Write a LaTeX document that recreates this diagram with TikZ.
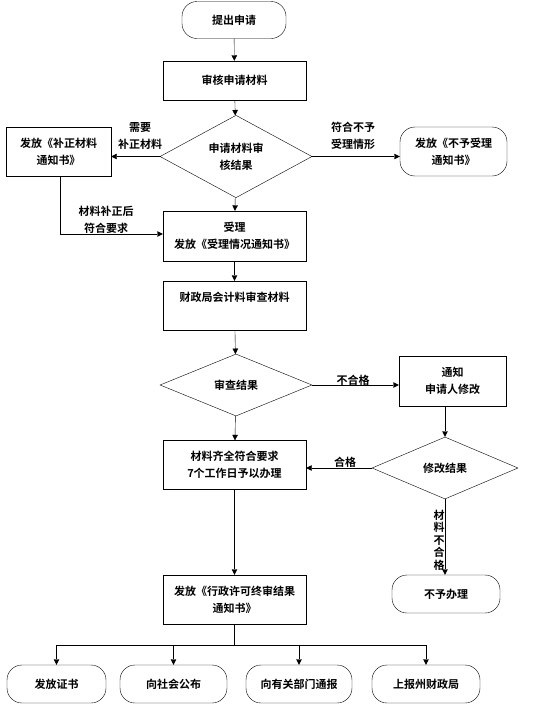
\documentclass[tikz,border=0pt]{standalone}
\usepackage{fontspec}
\setmainfont{Noto Sans CJK SC}[BoldFont={Noto Sans CJK SC Bold}]
\usetikzlibrary{shapes.geometric,arrows.meta}

\begin{document}
\begin{tikzpicture}[x=1pt,y=-1pt,
  box/.style={draw,thin,inner sep=0pt,align=center,
              font=\fontsize{11}{17}\selectfont\bfseries},
  termbox/.style={box,rounded corners=15pt},
  decision/.style={box,diamond},
  lbl/.style={inner sep=0pt,align=center,
              font=\fontsize{11}{17}\selectfont\bfseries},
  arr/.style={-{Triangle[length=5.5pt,width=5.5pt]},thin}]
\useasboundingbox (0,0) rectangle (551,705);
\node[termbox,minimum width=104pt,minimum height=37pt] (start) at (234,20) {提出申请};
\node[box,minimum width=143pt,minimum height=39pt] (chk) at (234.5,80.5) {审核申请材料};
\node[decision,minimum width=152pt,minimum height=61pt] (dec1) at (236,156.5) {申请材料审\\核结果};
\node[box,minimum width=105pt,minimum height=49pt] (fix) at (58.5,151.5) {发放《补正材料\\通知书》};
\node[termbox,minimum width=107pt,minimum height=49pt] (rej) at (453.5,151.5) {发放《不予受理\\通知书》};
\node[box,minimum width=143pt,minimum height=50pt] (acc) at (234.5,236) {受理\\发放《受理情况通知书》};
\node[box,minimum width=143pt,minimum height=49pt] (rev) at (234.5,305.5) {财政局会计料审查材料\\\mbox{}};
\node[decision,minimum width=152pt,minimum height=62pt] (dec2) at (236,385) {审查结果};
\node[box,minimum width=107pt,minimum height=50pt] (ntf) at (452.5,381) {通知\\申请人修改};
\node[box,minimum width=143pt,minimum height=49pt] (ok) at (234.5,465) {材料齐全符合要求\\7个工作日予以办理};
\node[decision,minimum width=146pt,minimum height=62pt] (dec3) at (445,468) {修改结果};
\node[termbox,minimum width=108pt,minimum height=38pt] (no) at (446,594) {不予办理};
\node[box,minimum width=143pt,minimum height=49pt] (fin) at (234.5,599.5) {发放《行政许可终审结果\\通知书》};
\node[termbox,minimum width=99pt,minimum height=38pt] (b1) at (56.5,684) {发放证书};
\node[termbox,minimum width=107pt,minimum height=38pt] (b2) at (173.5,684) {向社会公布};
\node[termbox,minimum width=106pt,minimum height=38pt] (b3) at (299,684) {向有关部门通报};
\node[termbox,minimum width=108pt,minimum height=38pt] (b4) at (426,684) {上报州财政局};

\node[lbl] (l1) at (140,136) {需要\\补正材料};
\node[lbl] (l2) at (353,136) {符合不予\\受理情形};
\node[lbl] (l3) at (106,220) {材料补正后\\符合要求};
\node[lbl] (l4) at (353,380) {不合格};
\node[lbl] (l5) at (345,462) {合格};
\node[lbl,font=\fontsize{11}{12.5}\selectfont\bfseries] (l6) at (439,540) {材\\料\\不\\合\\格};

\draw[arr] (start) -- (chk);
\draw[arr] (chk) -- (dec1);
\draw[arr] (dec1.west) -- (dec1.west -| fix.east);
\draw[arr] (dec1.east) -- (dec1.east -| rej.west);
\draw[arr] (dec1) -- (acc);
\draw[arr] ([xshift=1.5pt]fix.south) |- ([yshift=2pt]acc.west);
\draw[arr] (acc) -- (rev);
\draw[arr] (rev) -- (dec2);
\draw[arr] (dec2.east) -- (dec2.east -| ntf.west);
\draw[arr] (dec2) -- (ok);
\draw[arr] (dec3.north |- ntf.south) -- (dec3.north);
\draw[arr] (dec3.west) -- (dec3.west -| ok.east);
\draw[arr] (dec3.south) -- (dec3.south |- no.north);
\draw[arr] (ok) -- (fin);
\coordinate (split) at (fin.south |- 0,645);
\draw (fin.south) -- (split);
\draw (b1.north |- split) -- (b4.north |- split);
\foreach \b in {b1,b2,b3,b4}
  \draw[arr] (\b.north |- split) -- (\b.north);
\end{tikzpicture}
\end{document}
